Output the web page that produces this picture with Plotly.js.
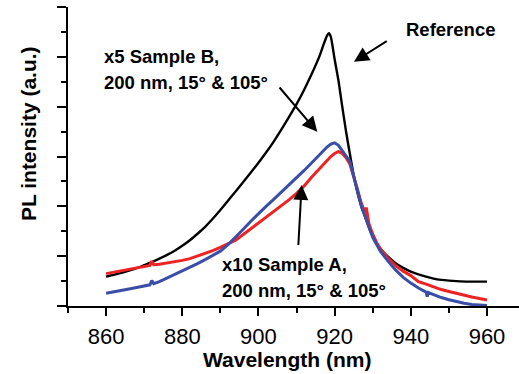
<!DOCTYPE html>
<html><head><meta charset="utf-8">
<script src="https://cdn.plot.ly/plotly-3.0.1.min.js"></script>
<style>html,body{margin:0;padding:0;background:#fff;}#chart{width:519px;height:374px;}</style>
</head><body><div id="chart"></div>
<script>
// Reference spectrum (black)
const blackWl = [860,862,864,866,868,870,872,874,876,878,880,882,884,886,888,890,892,894,896,898,900,902,904,906,908,910,912,914,916,917,918,918.5,919,920,921,922,923,924,925,926,927,928,929,930,932,934,936,938,940,942,944,946,948,950,952,955,958,960];
const blackI = [1.18,1.25,1.33,1.42,1.52,1.64,1.76,1.9,2.05,2.22,2.42,2.64,2.9,3.18,3.5,3.85,4.22,4.6,4.98,5.36,5.75,6.16,6.6,7.08,7.58,8.1,8.68,9.32,10.02,10.45,10.85,10.95,10.8,9.9,9.05,8.0,7.0,6.1,5.25,4.55,4.0,3.58,3.15,2.8,2.3,1.98,1.72,1.53,1.38,1.27,1.18,1.1,1.05,1.02,1.0,0.98,0.98,0.98];
// x10 Sample A (red)
const redWl = [860,862,864,866,868,870,871.5,872,872.5,874,876,878,880,882,884,886,888,890,892,894,896,898,900,902,904,906,908,910,912,914,916,918,919,920,921,922,923,924,925,926,927,928,928.3,929,930,931,932,934,936,938,940,942,944,946,948,950,952,954,956,958,960];
const redI = [1.3,1.36,1.42,1.49,1.55,1.6,1.63,1.8,1.66,1.68,1.72,1.77,1.83,1.9,2.0,2.1,2.22,2.35,2.5,2.64,2.87,3.1,3.33,3.55,3.77,4.02,4.26,4.52,4.82,5.18,5.52,5.86,6.0,6.12,6.2,6.12,5.95,5.7,5.22,4.68,4.12,3.75,3.95,3.3,2.88,2.55,2.3,1.92,1.62,1.4,1.22,0.98,0.88,0.76,0.66,0.58,0.5,0.43,0.36,0.3,0.24];
// x5 Sample B (blue)
const blueWl = [860,862,864,866,868,870,871.5,872,872.5,874,876,878,880,882,884,886,888,890,892,894,896,898,900,902,904,906,908,910,912,914,916,918,919,920,921,922,923,924,925,926,927,928,929,930,932,934,936,938,940,942,944,944.3,944.6,946,948,950,952,954,956,958,960];
const blueI = [0.51,0.56,0.62,0.68,0.74,0.8,0.85,1.02,0.9,0.98,1.12,1.27,1.42,1.55,1.7,1.86,2.02,2.2,2.46,2.75,3.08,3.4,3.72,4.0,4.28,4.56,4.85,5.14,5.44,5.75,6.07,6.38,6.5,6.55,6.45,6.25,6.02,5.8,5.25,4.62,4.02,3.58,3.12,2.75,2.2,1.8,1.45,1.15,0.92,0.72,0.56,0.38,0.54,0.45,0.34,0.25,0.17,0.11,0.06,0.03,0.02];
const xTicks = [860,880,900,920,940,960];
const xTickText = ['860','880','900','920','940','960'];

const FONT = 'Liberation Sans, Arial, sans-serif';
const traces = [
  {x: blackWl, y: blackI, mode:'lines', line:{color:'#000000', width:2.4, shape:'spline', smoothing:0.6}},
  {x: redWl, y: redI, mode:'lines', line:{color:'#ee2222', width:3}},
  {x: blueWl, y: blueI, mode:'lines', line:{color:'#3a4ea8', width:3}}
];
const bold = (s)=>'<b>'+s+'</b>';
const txtFont = {family: FONT, size: 18.5, color:'#000'};
const arrowStyle = {text:'', showarrow:true, arrowhead:2, arrowsize:1.5, arrowwidth:2, arrowcolor:'#000', standoff:0, startstandoff:0};
const layout = {
  width:519, height:374,
  margin:{l:68, r:0, t:7, b:68},
  paper_bgcolor:'#fff', plot_bgcolor:'#fff',
  showlegend:false,
  xaxis:{range:[850,968.4], tickvals:xTicks, ticktext:xTickText, ticks:'outside', ticklen:8, tickwidth:2, tickcolor:'#000',
    showline:true, linewidth:2, linecolor:'#000', showgrid:false, zeroline:false,
    tickfont:{family:FONT, size:22, color:'#000'}, ticklabelstandoff:2,
    minor:{ticks:'outside', dtick:10, tick0:850, ticklen:5, tickwidth:2, tickcolor:'#000', showgrid:false}},
  yaxis:{range:[0,12], dtick:2, tick0:0, ticks:'outside', ticklen:9, tickwidth:2, tickcolor:'#000',
    showline:true, linewidth:2, linecolor:'#000', showgrid:false, zeroline:false, showticklabels:false,
    minor:{ticks:'outside', dtick:1, ticklen:5, tickwidth:2, tickcolor:'#000', showgrid:false}},
  annotations:[
    {xref:'x', yref:'paper', x:907.5, y:0, yshift:-53, yanchor:'middle', xanchor:'center', showarrow:false,
     text:bold('Wavelength (nm)'), font:{family:FONT, size:21, color:'#000'}},
    {xref:'paper', yref:'y', x:0, xshift:-40, y:6.9, xanchor:'center', yanchor:'middle', textangle:-90, showarrow:false,
     text:bold('PL intensity (a.u.)'), font:{family:FONT, size:21, color:'#000'}},
    {xref:'x', yref:'y', x:938.2, y:11.1, xanchor:'left', yanchor:'middle', showarrow:false, text:bold('Reference'), font:txtFont},
    {xref:'x', yref:'y', x:858.8, y:10.03, xanchor:'left', yanchor:'middle', showarrow:false, text:bold('x5 Sample B,'), font:txtFont},
    {xref:'x', yref:'y', x:858.8, y:8.99, xanchor:'left', yanchor:'middle', showarrow:false, text:bold('200 nm, 15° &amp; 105°'), font:txtFont},
    {xref:'x', yref:'y', x:889.9, y:1.685, xanchor:'left', yanchor:'middle', showarrow:false, text:bold('x10 Sample A,'), font:txtFont},
    {xref:'x', yref:'y', x:889.9, y:0.642, xanchor:'left', yanchor:'middle', showarrow:false, text:bold('200 nm, 15° &amp; 105°'), font:txtFont},
    Object.assign({xref:'x', yref:'y', axref:'x', ayref:'y', x:925.07, y:9.80, ax:934.07, ay:10.67}, arrowStyle),
    Object.assign({xref:'x', yref:'y', axref:'x', ayref:'y', x:915.43, y:6.99, ax:905.20, ay:8.83}, arrowStyle),
    Object.assign({xref:'x', yref:'y', axref:'x', ayref:'y', x:911.34, y:4.86, ax:910.45, ay:2.39}, arrowStyle)
  ]
};
Plotly.newPlot('chart', traces, layout, {staticPlot:true, displayModeBar:false});
</script></body></html>
